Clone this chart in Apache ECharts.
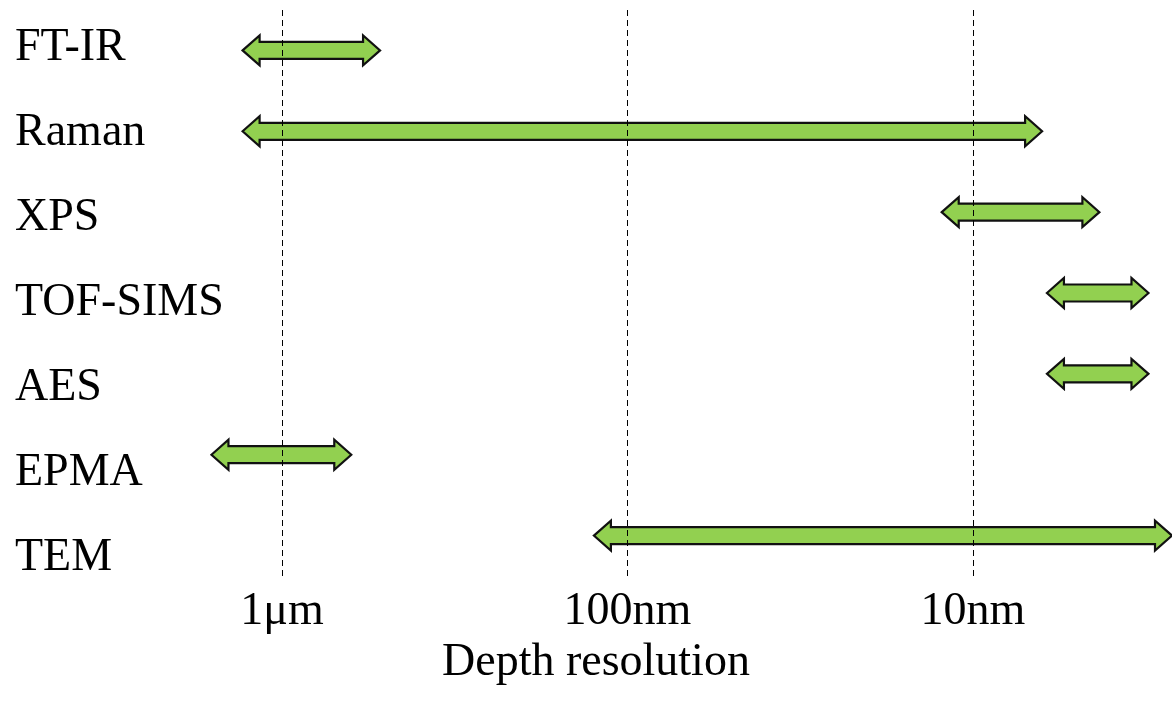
<!DOCTYPE html>
<html>
<head>
<meta charset="utf-8">
<script src="https://cdn.jsdelivr.net/npm/echarts@6/dist/echarts.min.js"></script>
<style>html,body{margin:0;padding:0;background:#fff;}#c{width:1172px;height:706px;}</style>
</head>
<body>
<div id="c"></div>
<script>
// ---- data ----
var techniques = ['FT-IR', 'Raman', 'XPS', 'TOF-SIMS', 'AES', 'EPMA', 'TEM'];
// depth-resolution range of each technique, in nm (coarse end, fine end)
var rangeCoarse = [1300, 1300, 12.3, 6.1, 6.1, 1600, 125];
var rangeFine   = [520, 6.3, 4.3, 3.1, 3.1, 630, 2.65];
var tickValues = [1000, 100, 10];
var tickLabels = ['1μm', '100nm', '10nm'];
var axisTitle = 'Depth resolution';

var FONT = "'Liberation Serif','Times New Roman',serif";

var chart = echarts.init(document.getElementById('c'), null, {renderer: 'canvas'});

var arrowData = techniques.map(function (t, i) {
  return [rangeCoarse[i], rangeFine[i], i];
});

function tickFormatter(v) {
  for (var i = 0; i < tickValues.length; i++) {
    if (Math.abs(Math.log10(v) - Math.log10(tickValues[i])) < 1e-6) return tickLabels[i];
  }
  return '';
}

var option = {
  backgroundColor: '#fff',
  animation: false,
  grid: [
    {left: 200, right: 0, top: 5.5, bottom: 105.5},
    {left: 200, right: 0, top: 10, bottom: 130}
  ],
  xAxis: [
    {gridIndex: 0, type: 'value', show: false},
    {
      gridIndex: 1, type: 'log', logBase: 10, inverse: true, min: 2.65, max: 1727,
      axisLine: {show: false}, axisTick: {show: false}, splitLine: {show: false},
      axisLabel: {
        customValues: tickValues,
        formatter: tickFormatter,
        margin: 36,
        verticalAlign: 'middle',
        hideOverlap: false,
        color: '#000', fontSize: 46, fontFamily: FONT
      }
    }
  ],
  yAxis: [
    {
      gridIndex: 0, type: 'category', data: techniques, inverse: true,
      axisLine: {show: false}, axisTick: {show: false}, splitLine: {show: false},
      axisLabel: {align: 'left', margin: 185, color: '#000', fontSize: 46, fontFamily: FONT}
    },
    {gridIndex: 1, type: 'category', data: techniques, inverse: true, show: false}
  ],
  graphic: [{
    type: 'text', left: 602 - 160, top: 662 - 22,
    style: {text: axisTitle, x: 0, y: 0, fill: '#000', fontSize: 46, fontFamily: FONT}
  }],
  series: [
    {
      type: 'line', xAxisIndex: 1, yAxisIndex: 1, data: [], z: 1, silent: true,
      markLine: {
        silent: true, symbol: 'none', animation: false,
        lineStyle: {type: [6, 4], color: '#000', width: 1},
        label: {show: false},
        data: tickValues.map(function (v) { return {xAxis: v}; })
      }
    },
    {
      type: 'custom', xAxisIndex: 1, yAxisIndex: 1, z: 3, clip: false,
      encode: {x: [0, 1], y: 2},
      data: arrowData,
      renderItem: function (params, api) {
        var yi = api.value(2);
        var p1 = api.coord([api.value(0), yi]);
        var p2 = api.coord([api.value(1), yi]);
        var xl = Math.min(p1[0], p2[0]), xr = Math.max(p1[0], p2[0]);
        var cy = p1[1];
        var hl = 17, hh = 15, sh = 8.5;
        return {
          type: 'polygon',
          shape: {points: [
            [xl, cy], [xl + hl, cy - hh], [xl + hl, cy - sh], [xr - hl, cy - sh],
            [xr - hl, cy - hh], [xr, cy], [xr - hl, cy + hh], [xr - hl, cy + sh],
            [xl + hl, cy + sh], [xl + hl, cy + hh]
          ]},
          style: {fill: '#92D050', stroke: '#111', lineWidth: 2.2, lineJoin: 'miter'}
        };
      }
    }
  ]
};
chart.setOption(option);
</script>
</body>
</html>
